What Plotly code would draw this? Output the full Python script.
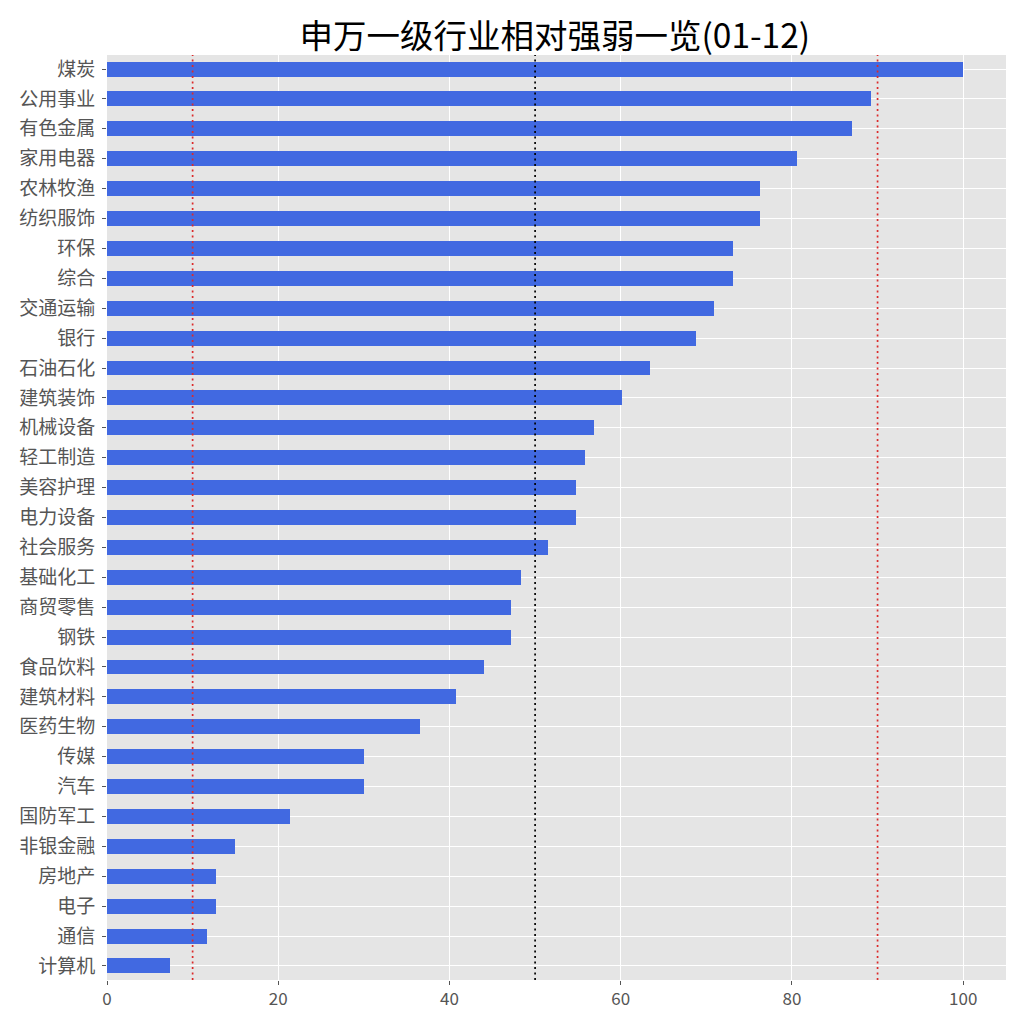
import plotly.graph_objects as go

industries = ["煤炭", "公用事业", "有色金属", "家用电器", "农林牧渔", "纺织服饰", "环保", "综合",
              "交通运输", "银行", "石油石化", "建筑装饰", "机械设备", "轻工制造", "美容护理", "电力设备",
              "社会服务", "基础化工", "商贸零售", "钢铁", "食品饮料", "建筑材料", "医药生物", "传媒",
              "汽车", "国防军工", "非银金融", "房地产", "电子", "通信", "计算机"]
values = [100, 89.2, 87.0, 80.6, 76.3, 76.3, 73.1, 73.1,
          70.9, 68.8, 63.4, 60.2, 56.9, 55.8, 54.8, 54.8,
          51.5, 48.4, 47.2, 47.2, 44.0, 40.8, 36.5, 30.0,
          30.0, 21.4, 15.0, 12.7, 12.7, 11.7, 7.4]
ref_lines = [(10, "#DC2A2A"), (50, "black"), (90, "#DC2A2A")]

fig = go.Figure(go.Bar(
    x=values, y=industries, orientation="h",
    marker=dict(color="#4169E1", line=dict(width=0)), width=0.5,
))

n = len(industries)
for xv, col in ref_lines:
    fig.add_shape(type="line", xref="x", yref="paper", x0=xv, x1=xv, y0=0, y1=1,
                  line=dict(color=col, width=1.7, dash="2px,3.5px"), layer="above")

fig.update_layout(
    width=1024, height=1024,
    margin=dict(l=99, r=26, t=47, b=52),
    paper_bgcolor="white", plot_bgcolor="#E5E5E5",
    font=dict(family="Noto Sans CJK SC", color="#555555"),
    title=dict(text="申万一级行业相对强弱一览(01-12)", x=0.534, xanchor="center", y=0.972, yanchor="middle",
               font=dict(size=33.5, color="black", family="Noto Sans CJK SC")),
    showlegend=False, bargap=0,
)
fig.update_xaxes(range=[0, 105], tickvals=[0, 20, 40, 60, 80, 100], showgrid=True, gridcolor="white",
                 gridwidth=1.2, zeroline=False, ticks="outside", ticklen=4, tickcolor="#555555",
                 tickfont=dict(size=17, color="#555555"), showline=False, automargin=False)
fig.update_yaxes(type="category", categoryorder="array", categoryarray=industries,
                 range=[n - 1 + 0.47, -0.47], showgrid=True, gridcolor="white", gridwidth=1.2,
                 ticks="outside", ticklen=4, tickcolor="#555555", ticklabelstandoff=3,
                 tickfont=dict(size=19, color="#555555"), showline=False, automargin=False)

fig.write_html("out.html")
